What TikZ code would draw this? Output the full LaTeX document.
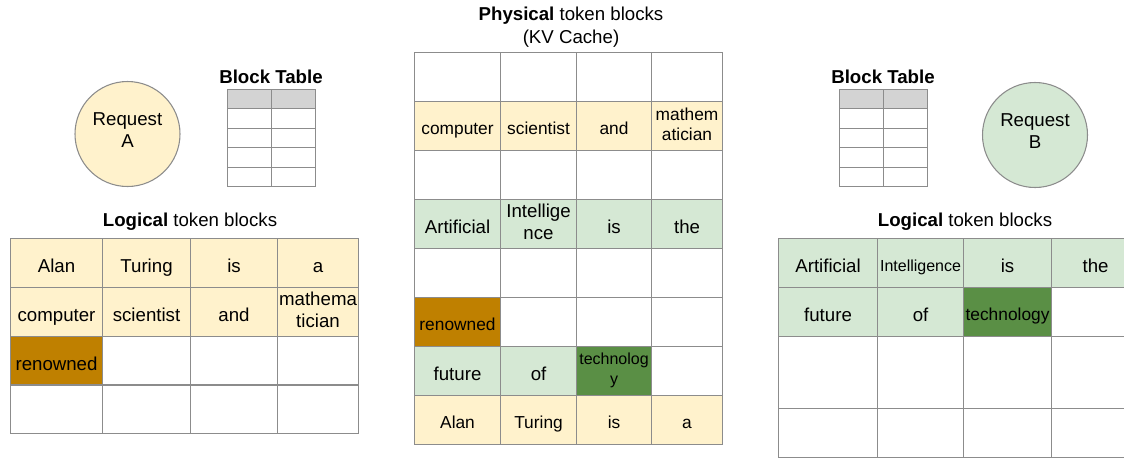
\documentclass[tikz,border=0pt]{standalone}
\usepackage{fontspec}
\setmainfont{Liberation Sans}
\usetikzlibrary{positioning}
\definecolor{tokyellow}{HTML}{FFF2CC}
\definecolor{tokgreen}{HTML}{D5E8D4}
\definecolor{renowncol}{HTML}{BF8000}
\definecolor{techcol}{HTML}{5A8F45}
\definecolor{gridline}{HTML}{8C8C8C}
\definecolor{headgray}{HTML}{D3D3D3}
\newcommand\cellstrut{\rule[-.25em]{0pt}{1.52em}}

\begin{document}
\begin{tikzpicture}[
  x=.75pt,y=-.75pt,
  font=\fontsize{14}{17}\selectfont,
  cell/.style={draw=gridline,line width=.8pt,anchor=north west,inner sep=0pt,align=center,
    minimum width=#1*.75pt,minimum height=49*.75pt,
    execute at begin node=\cellstrut,execute at end node=\cellstrut},
  yellow tok/.style={fill=tokyellow},
  green tok/.style={fill=tokgreen},
  brown tok/.style={fill=renowncol},
  dark tok/.style={fill=techcol},
  smaller text/.style={font=\fontsize{13}{15}\selectfont},
  tiny text/.style={font=\fontsize{12}{15}\selectfont},
  title/.style={align=center,font=\fontsize{14}{17.5}\selectfont},
  request/.style={circle,draw=gridline,line width=.8pt,minimum size=105*.75pt},
  tabcell/.style={draw=gridline,line width=.8pt,anchor=north west,inner sep=0pt,
    minimum width=44*.75pt,minimum height=19.4*.75pt}
]
\useasboundingbox (0,0) rectangle (1124,457);
\clip (0,0) rectangle (1124,457);

% request A side
\node[request,fill=tokyellow] (reqa) at (127.5,134) {};
\node[align=center] (reqalabel) at ([yshift=3pt]reqa.center) {Request\\A};
\foreach \r in {0,...,4}
  \foreach \c in {0,1}
    \node[tabcell] (bta-\r-\c) at (227+44*\c,89+19.4*\r) {};
\foreach \c in {0,1}
  \node[tabcell,fill=headgray] at (bta-0-\c.north west) {};
\node[title] (btatitle) at (271,77) {\textbf{Block Table}};
\node[title] (logatitle) at (190,222) {\textbf{Logical} token blocks};

\foreach \x/\w/\t [count=\c] in {10/92/Alan,102/88/Turing,190/87/is,277/81/a}
  \node[cell=\w,yellow tok] (la-1-\c) at (\x,238) {\t};
\foreach \x/\w/\t [count=\c] in {10/92/computer,102/88/scientist,190/87/and,277/81/{mathema\\tician}}
  \node[cell=\w,yellow tok] (la-2-\c) at (\x,287) {\t};
\node[cell=92,brown tok] (la-3-1) at (10,336) {renowned};
\foreach \x/\w [count=\c from 2] in {102/88,190/87,277/81}
  \node[cell=\w] (la-3-\c) at (\x,336) {};
\foreach \x/\w [count=\c] in {10/92,102/88,190/87,277/81}
  \node[cell=\w] (la-4-\c) at (\x,384) {};

% physical blocks
\node[title] (kvtitle) at (571,27) {\textbf{Physical} token blocks\\(KV Cache)};
\foreach \r in {1,3,5}
  \foreach \x/\w [count=\c] in {414/86,500/76,576/75,651/71}
    \node[cell=\w] (pb-\r-\c) at (\x,3+49*\r) {};
\foreach \x/\w/\t [count=\c] in {414/86/computer,500/76/scientist,576/75/and,651/71/{mathem\\atician}}
  \node[cell=\w,yellow tok,smaller text] (pb-2-\c) at (\x,101) {\t};
\foreach \x/\w/\t [count=\c] in {414/86/Artificial,500/76/{Intellige\\nce},576/75/is,651/71/the}
  \node[cell=\w,green tok] (pb-4-\c) at (\x,199) {\t};
\node[cell=86,brown tok,smaller text] (pb-6-1) at (414,297) {renowned};
\foreach \x/\w [count=\c from 2] in {500/76,576/75,651/71}
  \node[cell=\w] (pb-6-\c) at (\x,297) {};
\node[cell=86,green tok] (pb-7-1) at (414,346) {future};
\node[cell=76,green tok] (pb-7-2) at (500,346) {of};
\node[cell=75,dark tok,tiny text] (pb-7-3) at (576,346) {technolog\\y};
\node[cell=71] (pb-7-4) at (651,346) {};
\foreach \x/\w/\t [count=\c] in {414/86/Alan,500/76/Turing,576/75/is,651/71/a}
  \node[cell=\w,yellow tok,smaller text] (pb-8-\c) at (\x,395) {\t};

% request B side
\node[request,fill=tokgreen] (reqb) at (1035,135) {};
\node[align=center] (reqblabel) at ([yshift=3pt]reqb.center) {Request\\B};
\foreach \r in {0,...,4}
  \foreach \c in {0,1}
    \node[tabcell] (btb-\r-\c) at (839+44*\c,89+19.4*\r) {};
\foreach \c in {0,1}
  \node[tabcell,fill=headgray] at (btb-0-\c.north west) {};
\node[title] (btbtitle) at (883,77) {\textbf{Block Table}};
\node[title] (logbtitle) at (965,222) {\textbf{Logical} token blocks};

\node[cell=99,green tok] (lb-1-1) at (778,238) {Artificial};
\node[cell=86,green tok,tiny text] (lb-1-2) at (877,238) {Intelligence};
\node[cell=88,green tok] (lb-1-3) at (963,238) {is};
\node[cell=88,green tok] (lb-1-4) at (1051,238) {the};
\node[cell=99,green tok] (lb-2-1) at (778,287) {future};
\node[cell=86,green tok] (lb-2-2) at (877,287) {of};
\node[cell=88,dark tok,smaller text] (lb-2-3) at (963,287) {technology};
\node[cell=88] (lb-2-4) at (1051,287) {};
\foreach \x/\w [count=\c] in {778/99,877/86,963/88,1051/88} {
  \node[cell=\w,minimum height=72*.75pt] (lb-3-\c) at (\x,336) {};
  \node[cell=\w] (lb-4-\c) at (\x,408) {};
}
\end{tikzpicture}
\end{document}
